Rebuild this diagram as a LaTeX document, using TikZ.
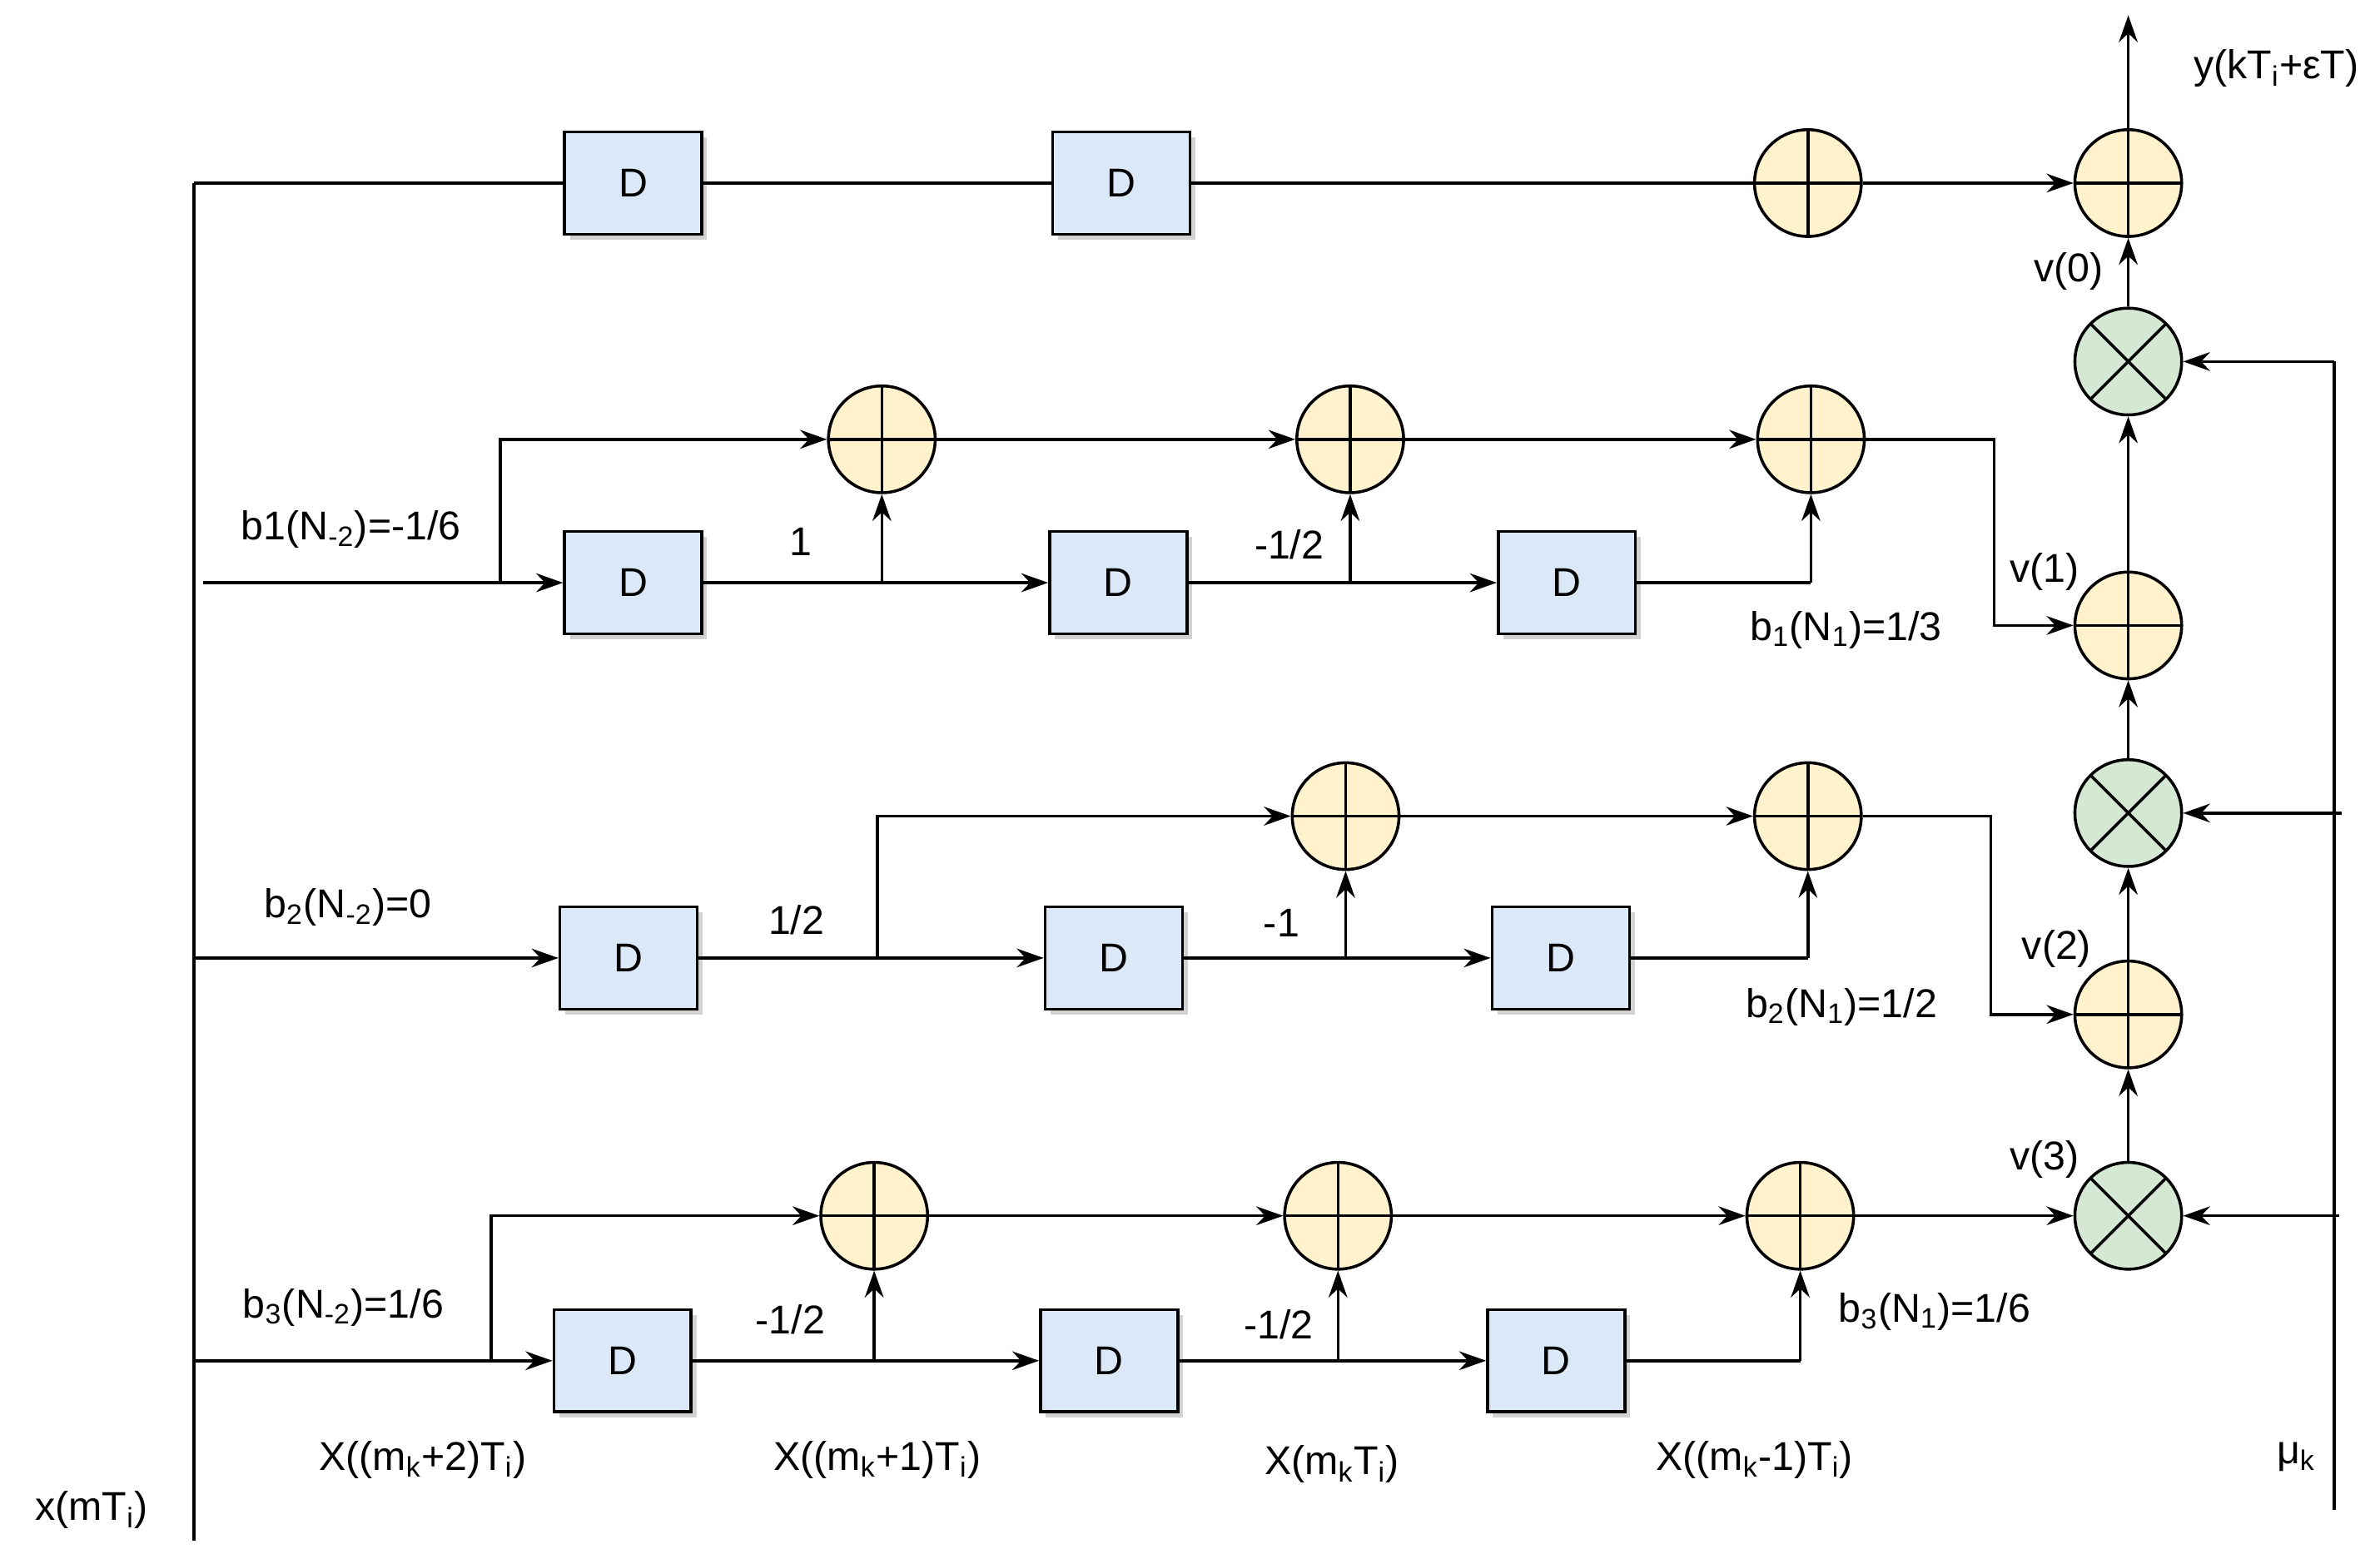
\documentclass[tikz,border=0pt]{standalone}
\usepackage{fontspec}
\setmainfont{Liberation Sans}
\usetikzlibrary{arrows.meta,shadows}
\begin{document}
\begin{tikzpicture}[x=0.02cm,y=-0.02cm,font=\fontsize{15}{18}\selectfont,
 line width=1.1pt,
 arr/.style={-{Stealth[length=10pt,width=7pt]}},
 dbox/.style={draw,fill={rgb,255:red,218;green,232;blue,248},minimum width=1.8cm,minimum height=1.34cm,inner sep=0pt,drop shadow={shadow xshift=2pt,shadow yshift=-2pt,fill=gray!70}},
 add/.style={draw,circle,fill={rgb,255:red,255;green,242;blue,204},minimum size=1.4cm,inner sep=0pt,path picture={\draw[line width=1.1pt] (path picture bounding box.north)--(path picture bounding box.south) (path picture bounding box.west)--(path picture bounding box.east);}},
 mul/.style={draw,circle,fill={rgb,255:red,213;green,232;blue,212},minimum size=1.4cm,inner sep=0pt,path picture={\draw[line width=1.1pt] (path picture bounding box.north west)--(path picture bounding box.south east) (path picture bounding box.south west)--(path picture bounding box.north east);}}]
\useasboundingbox (0,0) rectangle (1560,1015);
% left bus
\coordinate (Ltop) at (127,120); \coordinate (Lbot) at (127,1010);
\draw (Ltop)--(Lbot);
\node at (60,990) {x(mT\textsubscript{i})};
% row 0
\node[dbox] (D01) at (415,120) {D};
\node[dbox] (D02) at (735,120) {D};
\node[add] (A03) at (1185,120) {};
\node[add] (S0) at (1395,120) {};
\draw (Ltop)--(D01); \draw (D01)--(D02); \draw (D02)--(A03); \draw[arr] (A03)--(S0);
\coordinate (out) at (1395,10);
\draw[arr] (S0)--(out);
\node at (1492,45) {y(kT\textsubscript{i}+εT)};
\node[mul] (M0) at (1395,237) {};
\draw[arr] (M0)--(S0);
\node at (1356,178) {v(0)};
% mu line
\coordinate (mu0) at (1530,237); \coordinate (mub) at (1530,990);
\draw (mu0)--(mub);
\draw[arr] (mu0)--(M0);
\node at (1505,955) {μ\textsubscript{k}};
% row 1
\coordinate (in1) at (133,382);
\node[dbox] (D11) at (415,382) {D};
\node[dbox] (D12) at (733,382) {D};
\node[dbox] (D13) at (1027,382) {D};
\node[add] (A11) at (578,288) {};
\node[add] (A12) at (885,288) {};
\node[add] (A13) at (1187,288) {};
\coordinate (b1a) at (328,382); \coordinate (b1b) at (328,288);
\draw[arr] (in1)--(D11);
\draw[arr] (b1a)--(b1b)--(A11);
\coordinate (p11) at (578,382); \coordinate (p12) at (885,382); \coordinate (p13) at (1187,382);
\draw (D11)--(p11); \draw[arr] (p11)--(A11); \draw[arr] (p11)--(D12);
\draw (D12)--(p12); \draw[arr] (p12)--(A12); \draw[arr] (p12)--(D13);
\draw (D13)--(p13); \draw[arr] (p13)--(A13);
\draw[arr] (A11)--(A12); \draw[arr] (A12)--(A13);
\node[add] (S1) at (1395,410) {};
\coordinate (c1a) at (1307,288); \coordinate (c1b) at (1307,410);
\draw[arr] (A13)--(c1a)--(c1b)--(S1);
\draw[arr] (S1)--(M0);
\node at (230,347) {b1(N\textsubscript{-2})=-1/6};
\node at (525,355) {1};
\node at (845,357) {-1/2};
\node at (1340,375) {v(1)};
\node at (1210,413) {b\textsubscript{1}(N\textsubscript{1})=1/3};
% mult 1
\node[mul] (M1) at (1395,533) {};
\coordinate (mu1) at (1535,533);
\draw[arr] (mu1)--(M1);
\draw[arr] (M1)--(S1);
% row 2
\coordinate (in2) at (127,628);
\node[dbox] (D21) at (412,628) {D};
\node[dbox] (D22) at (730,628) {D};
\node[dbox] (D23) at (1023,628) {D};
\node[add] (A22) at (882,535) {};
\node[add] (A23) at (1185,535) {};
\draw[arr] (in2)--(D21);
\coordinate (p21) at (575,628); \coordinate (p21b) at (575,535);
\coordinate (p22) at (882,628); \coordinate (p23) at (1185,628);
\draw (D21)--(p21); \draw[arr] (p21)--(p21b)--(A22); \draw[arr] (p21)--(D22);
\draw (D22)--(p22); \draw[arr] (p22)--(A22); \draw[arr] (p22)--(D23);
\draw (D23)--(p23); \draw[arr] (p23)--(A23);
\draw[arr] (A22)--(A23);
\node[add] (S2) at (1395,665) {};
\coordinate (c2a) at (1305,535); \coordinate (c2b) at (1305,665);
\draw[arr] (A23)--(c2a)--(c2b)--(S2);
\draw[arr] (S2)--(M1);
\node at (228,595) {b\textsubscript{2}(N\textsubscript{-2})=0};
\node at (522,603) {1/2};
\node at (840,605) {-1};
\node at (1348,622) {v(2)};
\node at (1207,660) {b\textsubscript{2}(N\textsubscript{1})=1/2};
% mult 2
\node[mul] (M2) at (1395,797) {};
\coordinate (mu2) at (1533,797);
\draw[arr] (mu2)--(M2);
\draw[arr] (M2)--(S2);
\node at (1340,760) {v(3)};
% row 3
\coordinate (in3) at (127,892);
\node[dbox] (D31) at (408,892) {D};
\node[dbox] (D32) at (727,892) {D};
\node[dbox] (D33) at (1020,892) {D};
\node[add] (A31) at (573,797) {};
\node[add] (A32) at (877,797) {};
\node[add] (A33) at (1180,797) {};
\draw[arr] (in3)--(D31);
\coordinate (b3a) at (322,892); \coordinate (b3b) at (322,797);
\draw[arr] (b3a)--(b3b)--(A31);
\coordinate (p31) at (573,892); \coordinate (p32) at (877,892); \coordinate (p33) at (1180,892);
\draw (D31)--(p31); \draw[arr] (p31)--(A31); \draw[arr] (p31)--(D32);
\draw (D32)--(p32); \draw[arr] (p32)--(A32); \draw[arr] (p32)--(D33);
\draw (D33)--(p33); \draw[arr] (p33)--(A33);
\draw[arr] (A31)--(A32); \draw[arr] (A32)--(A33); \draw[arr] (A33)--(M2);
\node at (225,857) {b\textsubscript{3}(N\textsubscript{-2})=1/6};
\node at (518,865) {-1/2};
\node at (838,868) {-1/2};
\node at (1268,860) {b\textsubscript{3}(N\textsubscript{1})=1/6};
% bottom labels
\node at (277,957) {X((m\textsubscript{k}+2)T\textsubscript{i})};
\node at (575,957) {X((m\textsubscript{k}+1)T\textsubscript{i})};
\node at (873,960) {X(m\textsubscript{k}T\textsubscript{i})};
\node at (1150,957) {X((m\textsubscript{k}-1)T\textsubscript{i})};
\end{tikzpicture}
\end{document}
